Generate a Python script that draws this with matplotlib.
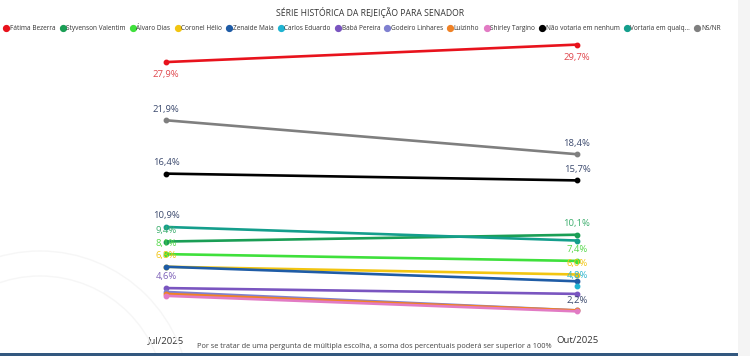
"""
Série histórica da rejeição para senador (Jul/2025 x Out/2025).
"""

import matplotlib.pyplot as plt
import numpy as np
from matplotlib.lines import Line2D
from matplotlib.patches import Arc, Rectangle

plt.rcParams["font.family"] = ["Open Sans", "DejaVu Sans"]

# ── data ──────────────────────────────────────────────────────────────
periods = ["Jul/2025", "Out/2025"]

candidates = [
    "Fátima Bezerra", "Styvenson Valentim", "Álvaro Dias", "Coronel Hélio",
    "Zenaide Maia", "Carlos Eduardo", "Babá Pereira", "Godeiro Linhares",
    "Luizinho", "Shirley Targino", "Não votaria em nenhum",
    "Vortaria em qualq...", "NS/NR",
]

fatima = [27.9, 29.7]
styvenson = [9.4, 10.1]
alvaro = [8.1, 7.4]
coronel = [6.8, 6.0]
zenaide = [6.8, 5.3]
carlos = [np.nan, 4.8]
baba = [4.6, 4.0]
godeiro = [4.2, 2.3]
luizinho = [4.0, 2.3]
shirley = [3.8, 2.2]
nao_votaria = [16.4, 15.7]
votaria_qualquer = [10.9, 9.5]
nsnr = [21.9, 18.4]

series = [fatima, styvenson, alvaro, coronel, zenaide, carlos, baba,
          godeiro, luizinho, shirley, nao_votaria, votaria_qualquer, nsnr]

colors = ["#E8121C", "#1A9E55", "#3FE03C", "#F2C511", "#1F5CA6", "#1FB3D1",
          "#7A55C0", "#7F80D0", "#F08226", "#E27BC4", "#000000", "#149E8C",
          "#7F7F7F"]

# data labels actually shown in the reference: (series index, period index, side)
shown_labels = [
    (0, 0, "below"), (0, 1, "below"),
    (12, 0, "above"), (12, 1, "above"),
    (10, 0, "above"), (10, 1, "above"),
    (11, 0, "above"),
    (1, 0, "above"), (1, 1, "above"),
    (2, 0, "above"), (2, 1, "above"),
    (3, 0, "above"), (3, 1, "above"),
    (6, 0, "above"),
    (5, 1, "above"),
    (9, 1, "above"),
]
NAVY = "#3C4A6E"
label_colors = {0: "#E0484E", 12: NAVY, 10: NAVY, 11: NAVY, 1: "#3DAE6E",
                2: "#55D84A", 3: "#F2C511", 6: "#7E62B8", 5: "#2DB6D0",
                9: NAVY}

# ── figure ────────────────────────────────────────────────────────────
W, H = 750, 356
fig = plt.figure(figsize=(W / 100, H / 100), dpi=100)
fig.patch.set_facecolor("white")

# faint decorative arcs bottom-left
for r in (125, 150):
    fig.add_artist(Arc((40 / W, -45 / H), r * 2 / W, r * 2 / H, theta1=0,
                       theta2=180, color="#f6f6f6", lw=1.0,
                       transform=fig.transFigure))

ax = fig.add_axes([166 / W, (H - 332.7) / H, 411 / W, 291 / H])
ax.set_xlim(0, 1)
ax.set_ylim(0, 30)
ax.patch.set_alpha(0)

x = np.arange(len(periods))
for vals, col in zip(series, colors):
    ax.plot(x, vals, color=col, lw=1.9, marker="o", ms=3.2, clip_on=False,
            solid_capstyle="round")

for si, pi, side in shown_labels:
    v = series[si][pi]
    dy = -9 if side == "below" else 8
    ax.annotate(f"{v:.1f}%".replace(".", ","), (x[pi], v),
                xytext=(0, dy), textcoords="offset points",
                ha="center", va="center", fontsize=6.8,
                color=label_colors[si])

for s in ax.spines.values():
    s.set_visible(False)
ax.set_yticks([])
ax.set_xticks(x)
ax.set_xticklabels(periods, fontsize=6.8, color="#333333")
ax.tick_params(axis="x", length=0, pad=2.5)

# title + legend
fig.text(370 / W, 1 - 12 / H, "SÉRIE HISTÓRICA DA REJEIÇÃO PARA SENADOR",
         ha="center", va="center", fontsize=6.2, color="#333333")

handles = [Line2D([], [], ls="", marker="o", ms=4.2, color=c) for c in colors]
fig.legend(handles, candidates, ncol=len(candidates), loc="center",
           bbox_to_anchor=(362 / W, 1 - 29 / H), frameon=False,
           fontsize=4.7, handletextpad=0.1, columnspacing=0.65,
           handlelength=0.9, borderaxespad=0, borderpad=0,
           labelcolor="#333333")

fig.text(374 / W, 1 - 347 / H,
         "Por se tratar de uma pergunta de múltipla escolha, a soma dos "
         "percentuais poderá ser superior a 100%",
         ha="center", va="center", fontsize=5.3, color="#444444")

# frame bits: bottom band and right edge
fig.add_artist(Rectangle((0, 0), 1, 3 / H, color="#33587f",
                         transform=fig.transFigure, lw=0))
fig.add_artist(Rectangle((738 / W, 0), 12 / W, 1, color="#f4f4f4",
                         transform=fig.transFigure, lw=0))

fig.savefig("out.png", dpi=100)
